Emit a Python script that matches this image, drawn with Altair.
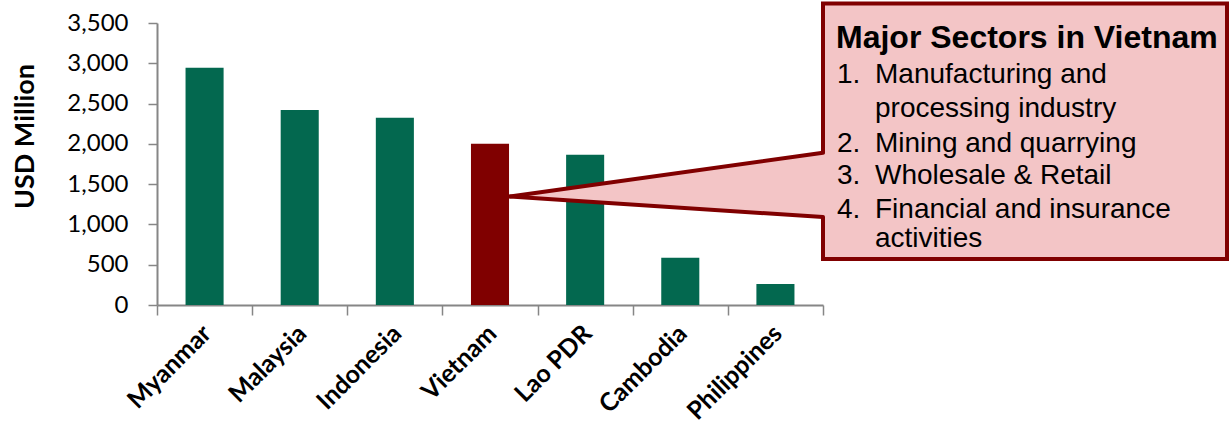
import altair as alt
import pandas as pd

# ---- data ----
countries = ["Myanmar", "Malaysia", "Indonesia", "Vietnam", "Lao PDR", "Cambodia", "Philippines"]
values = [2945, 2420, 2325, 2000, 1865, 585, 260]
highlight = ["Vietnam"]

callout_title = "Major Sectors in Vietnam"
callout_numbers = ["1.", "", "2.", "3.", "4.", ""]
callout_lines = [
    "Manufacturing and",
    "processing industry",
    "Mining and quarrying",
    "Wholesale & Retail",
    "Financial and insurance",
    "activities",
]

# ---- layout constants (pixels, relative to plot origin) ----
W, H = 666, 282
PAD = {"left": 157, "top": 23, "right": 1232 - 157 - W, "bottom": 425 - 23 - H}
GREEN = "#03684F"
RED = "#800000"
PINK = "#F3C5C6"
GRAY = "#868686"

df = pd.DataFrame({"country": countries, "value": values})
df["color"] = [RED if c in highlight else GREEN for c in countries]

bars = alt.Chart(df).mark_bar(width=alt.RelativeBandSize(0.4)).encode(
    x=alt.X(
        "country:N",
        sort=countries,
        title=None,
        scale=alt.Scale(paddingInner=0, paddingOuter=0),
        axis=alt.Axis(
            labelAngle=-45,
            labelAlign="right",
            labelBaseline="middle",
            labelFont="Lato",
            labelFontWeight="bold",
            labelFontSize=25,
            labelColor="#000000",
            labelPadding=14,
            labelOffset=2,
            tickBand="extent",
            tickSize=10,
            tickColor=GRAY,
            tickWidth=1.5,
            domainColor=GRAY,
            domainWidth=2,
            grid=False,
        ),
    ),
    y=alt.Y(
        "value:Q",
        scale=alt.Scale(domain=[0, 3500], nice=False),
        axis=alt.Axis(
            values=list(range(0, 3501, 500)),
            format=",.0f",
            title="USD Million",
            titleFont="Lato",
            titleFontWeight="bold",
            titleFontSize=27,
            titleColor="#000000",
            titleAngle=-90,
            titleBaseline="middle",
            titleAlign="center",
            titleX=25.5 - 157,
            titleY=136 - 23,
            labelFont="Lato",
            labelFontSize=24,
            labelColor="#000000",
            labelPadding=20,
            tickSize=9,
            tickColor=GRAY,
            tickWidth=1.5,
            domainColor=GRAY,
            domainWidth=2,
            grid=False,
        ),
    ),
    color=alt.Color("color:N", scale=None, legend=None),
)

one = pd.DataFrame({"k": [0]})

# callout box (fill)
box_left, box_right, box_top, box_bottom = 666, 1070, -19.5, 236
ptr_tip = (353, 173.5)
ptr_top_y, ptr_bot_y = 129.7, 194

box = alt.Chart(one).mark_rect(fill=PINK, stroke=RED, strokeWidth=4).encode(
    x=alt.value(box_left), x2=alt.value(box_right),
    y=alt.value(box_top), y2=alt.value(box_bottom),
)

tri_df = pd.DataFrame({
    "px": [ptr_tip[0], box_left + 4],
    "py": [ptr_tip[1], ptr_top_y],
    "py2": [ptr_tip[1], ptr_bot_y],
})
tri = alt.Chart(tri_df).mark_area(color=PINK, opacity=1).encode(
    x=alt.X("px:Q", scale=None, axis=None),
    y=alt.Y("py:Q", scale=None, axis=None),
    y2="py2:Q",
)

def rule(x1, y1, x2, y2):
    return alt.Chart(one).mark_rule(color=RED, strokeWidth=4, strokeCap="round").encode(
        x=alt.value(x1), y=alt.value(y1), x2=alt.value(x2), y2=alt.value(y2)
    )

ptr_lines = [
    rule(ptr_tip[0], ptr_tip[1], box_left, ptr_top_y),
    rule(ptr_tip[0], ptr_tip[1], box_left, ptr_bot_y),
]

texts = []
texts.append(
    alt.Chart(pd.DataFrame({"t": [callout_title]})).mark_text(
        font="Liberation Sans", fontWeight="bold", fontSize=32, align="left",
        baseline="alphabetic", color="#000000",
    ).encode(text="t:N", x=alt.value(836 - 157), y=alt.value(48.3 - 23))
)
baselines = [83.3, 116.7, 151.7, 184.3, 218.3, 246.7]
for num, line, yb in zip(callout_numbers, callout_lines, baselines):
    if num:
        texts.append(
            alt.Chart(pd.DataFrame({"t": [num]})).mark_text(
                font="Liberation Sans", fontSize=28, align="left",
                baseline="alphabetic", color="#000000",
            ).encode(text="t:N", x=alt.value(837 - 157), y=alt.value(yb - 23))
        )
    texts.append(
        alt.Chart(pd.DataFrame({"t": [line]})).mark_text(
            font="Liberation Sans", fontSize=28, align="left",
            baseline="alphabetic", color="#000000",
        ).encode(text="t:N", x=alt.value(875 - 157), y=alt.value(yb - 23))
    )

chart = alt.layer(bars, box, tri, *ptr_lines, *texts).resolve_scale(
    x="independent", y="independent"
).properties(
    width=W, height=H, padding=PAD, autosize=alt.AutoSizeParams(type="none"),
    background="white",
).configure_view(stroke=None)

chart.save("out.html", embed_options={"renderer": "svg", "actions": False})
